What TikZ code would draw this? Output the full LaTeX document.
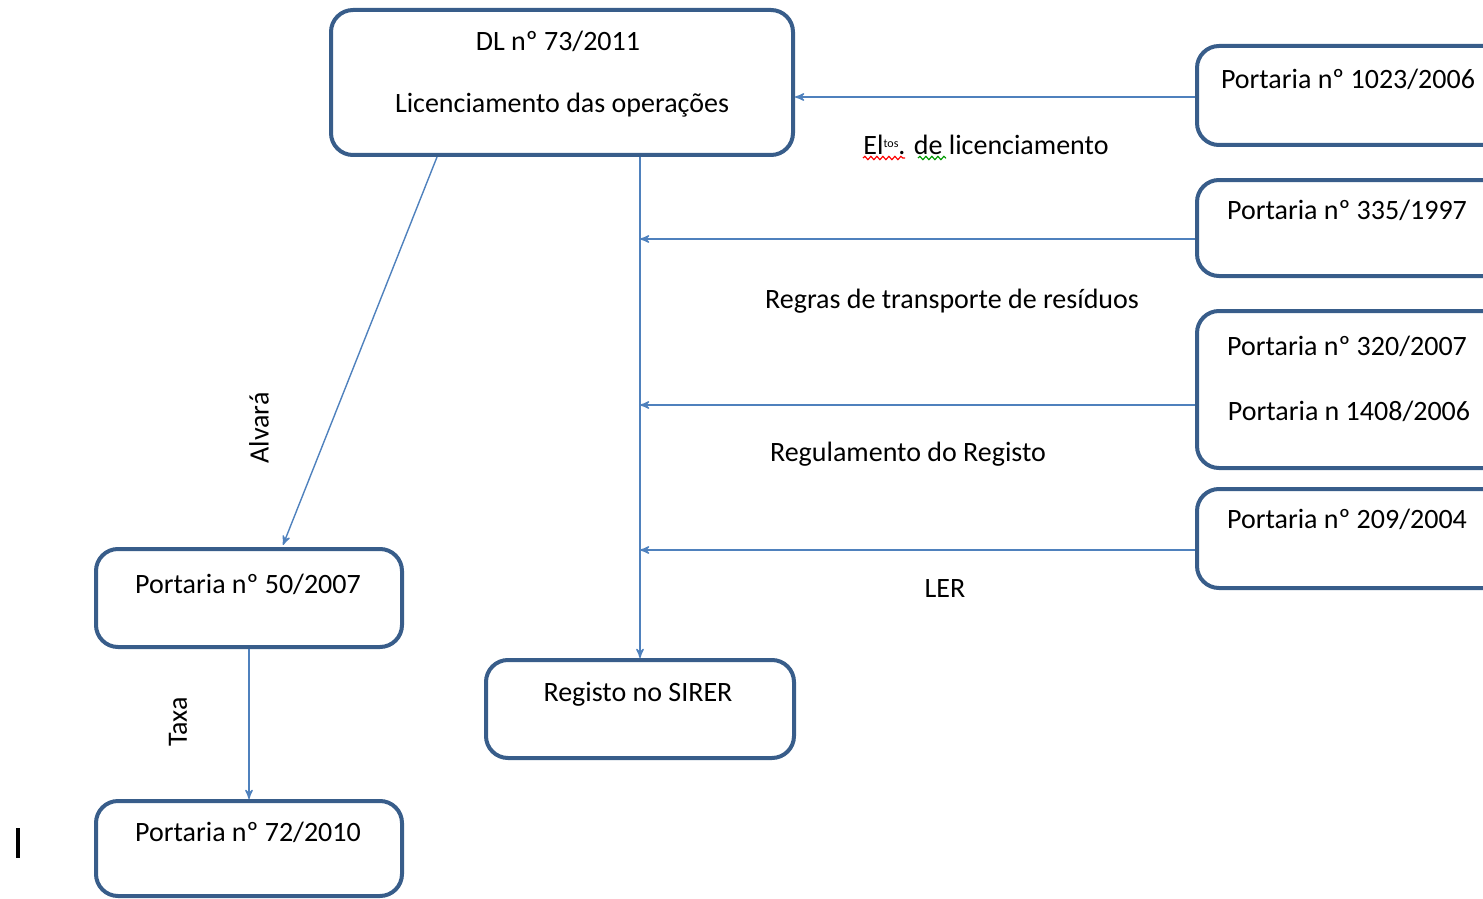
\documentclass[tikz,border=0pt]{standalone}
\usepackage{fontspec}
\setmainfont{Carlito}
\usetikzlibrary{arrows}
\usetikzlibrary{fit}
\usetikzlibrary{decorations.pathmorphing}
\definecolor{boxline}{HTML}{385D8A}
\definecolor{linkblue}{HTML}{4F81BD}

\begin{document}
\begin{tikzpicture}[x=0.5pt, y=-0.5pt,
    box/.style={draw=boxline, line width=2pt, rounded corners=11pt, inner sep=0pt},
    link/.style={draw=linkblue, line width=0.7pt, -stealth'},
    lbl/.style={font=\fontsize{14}{16}\selectfont, inner sep=0pt}]

      \useasboundingbox (0,0) rectangle (1483,899);
      \clip (0,0) rectangle (1483,899);

      % boxes
      \node[box, fit={(331,10) (793,155)}] (dl) {};
      \node[box, fit={(1197,46) (1510,145)}] (p1023) {};
      \node[box, fit={(1197,180) (1510,276)}] (p335) {};
      \node[box, fit={(1197,311) (1510,468)}] (p320) {};
      \node[box, fit={(1197,489) (1510,588)}] (p209) {};
      \node[box, fit={(96,549) (402,647)}] (p50) {};
      \node[box, fit={(96,801) (402,896)}] (p72) {};
      \node[box, fit={(486,660) (794,758)}] (sirer) {};

      % texts in the boxes
      \node[lbl] (t-dl) at (558,41) {DL nº 73/2011};
      \node[lbl] (t-lic) at (562,105) {Licenciamento das operações};
      \node[lbl] (t-1023) at (1348,79) {Portaria nº 1023/2006};
      \node[lbl] (t-335) at (1347,210) {Portaria nº 335/1997};
      \node[lbl] (t-320) at (1347,346) {Portaria nº 320/2007};
      \node[lbl] (t-1408) at (1349,411) {Portaria n 1408/2006};
      \node[lbl] (t-209) at (1347,519) {Portaria nº 209/2004};
      \node[lbl] (t-50) at (248,584) {Portaria nº 50/2007};
      \node[lbl] (t-72) at (248,832) {Portaria nº 72/2010};
      \node[lbl] (t-sirer) at (638,694) {Registo no SIRER};

      % connectors
      \draw[link] (p1023.west |- 0,97) -- (dl.east |- 0,97);
      \draw[link] (sirer.north |- dl.south) -- (sirer.north);
      \draw[link] (p335.west |- 0,239) -- (sirer.north |- 0,239);
      \draw[link] (p320.west |- 0,405) -- (sirer.north |- 0,405);
      \draw[link] (p209.west |- 0,550) -- (sirer.north |- 0,550);
      \draw[link] (dl.south -| 437,0) -- (283,545);
      \draw[link] (p50.south) -- (p72.north);

      % labels on the connectors
      \node[lbl] (l-elt) at (986,145) {El\raisebox{0.55ex}{\fontsize{6}{6}\selectfont tos}. de licenciamento};
      \node[lbl] (l-regras) at (952,301) {Regras de transporte de resíduos};
      \node[lbl] (l-regul) at (908,454) {Regulamento do Registo};
      \node[lbl] (l-ler) at (945,589) {LER};
      \node[lbl, rotate=90] (l-alvara) at (259,428) {Alvará};
      \node[lbl, rotate=90] (l-taxa) at (178,722) {Taxa};

      % spelling marks and cursor
      \draw[red, line width=0.6pt, decorate, decoration={snake, amplitude=0.8pt, segment length=3pt}] (863,158) -- (905,158);
      \draw[green!60!black, line width=0.6pt, decorate, decoration={snake, amplitude=0.8pt, segment length=3pt}] (918,158) -- (946,158);
      \draw[line width=2pt] (18,828) -- (18,858);
    \end{tikzpicture}
\end{document}
